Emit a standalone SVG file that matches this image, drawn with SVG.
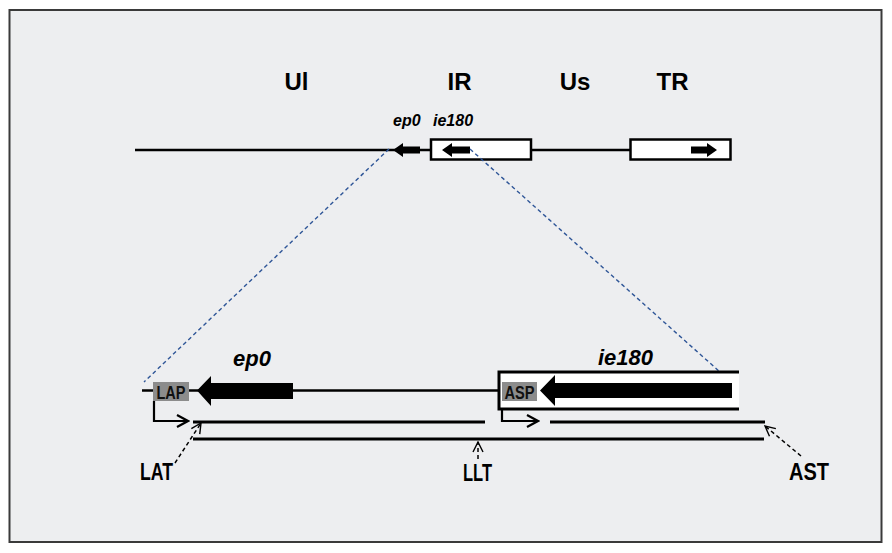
<svg xmlns="http://www.w3.org/2000/svg" width="892" height="553" viewBox="0 0 892 553">
<defs>
<style>
.lbl{font-family:"Liberation Sans",Arial,sans-serif;font-weight:bold;fill:#000}
.gene{font-family:"Liberation Sans",Arial,sans-serif;font-weight:bold;font-style:italic;fill:#000}
.ln{stroke:#000;fill:none}
.blue{stroke:#2E5597;stroke-width:1.4;stroke-dasharray:4 3;fill:none}
.dash{stroke:#000;stroke-width:1.5;stroke-dasharray:4 3;fill:none}
.prom{fill:#8C8C8C}
.promt{font-family:"Liberation Sans",Arial,sans-serif;font-weight:bold;font-size:18px;fill:#111}
</style>
<marker id="chev" viewBox="0 0 14 14" refX="12" refY="7" markerWidth="14" markerHeight="14" markerUnits="userSpaceOnUse" orient="auto">
<path d="M1,1 L12,7 L1,13" fill="none" stroke="#000" stroke-width="2.2"/>
</marker>
<marker id="open" viewBox="0 0 12 12" refX="11" refY="6" markerWidth="12" markerHeight="12" markerUnits="userSpaceOnUse" orient="auto">
<path d="M1,1 L11,6 L1,11" fill="none" stroke="#000" stroke-width="1.4"/>
</marker>
</defs>
<rect x="0" y="0" width="892" height="553" fill="#fff"/>
<rect id="frame" x="9.5" y="10" width="872" height="532" fill="#EDEEF0" stroke="#3A3A3A" stroke-width="2"/>

<g id="region-labels">
<text class="lbl" x="296.5" y="90" font-size="24" text-anchor="middle">Ul</text>
<text class="lbl" x="459.5" y="90" font-size="24" text-anchor="middle">IR</text>
<text class="lbl" x="575" y="90" font-size="24" text-anchor="middle">Us</text>
<text class="lbl" x="672.5" y="90" font-size="24" text-anchor="middle">TR</text>
</g>

<g id="genome-top">
<line class="ln" x1="135" y1="150" x2="431" y2="150" stroke-width="2.5"/>
<line class="ln" x1="531" y1="150" x2="630" y2="150" stroke-width="2.5"/>
<rect x="431" y="139.5" width="100" height="20" fill="#fff" stroke="#000" stroke-width="2.5"/>
<rect x="630.5" y="139.5" width="100" height="20" fill="#fff" stroke="#000" stroke-width="2.5"/>
<polygon points="393,150 403,143 403,146.5 420,146.5 420,153.5 403,153.5 403,157" fill="#000"/>
<polygon points="442,150 452,143 452,146.5 470,146.5 470,153.5 452,153.5 452,157" fill="#000"/>
<polygon points="717,150 707,143 707,146.5 691,146.5 691,153.5 707,153.5 707,157" fill="#000"/>
<text class="gene" x="393" y="126" font-size="16">ep0</text>
<text class="gene" x="433" y="126" font-size="16">ie180</text>
</g>

<g id="connectors">
<line class="blue" x1="389" y1="149" x2="144" y2="382"/>
<line class="blue" x1="470" y1="149" x2="720" y2="372"/>
<polyline class="ln" points="154,401 154,421 188,421" stroke-width="2.2" marker-end="url(#chev)"/>
<polyline class="ln" points="502,401 502,421 538,421" stroke-width="2.2" marker-end="url(#chev)"/>
<line class="dash" x1="175" y1="463" x2="201" y2="423" marker-end="url(#open)"/>
<line class="dash" x1="478" y1="459" x2="478" y2="442" marker-end="url(#open)"/>
<line class="dash" x1="801" y1="456" x2="765" y2="426" marker-end="url(#open)"/>
</g>

<g id="genome-detail">
<line class="ln" x1="142" y1="390.5" x2="499" y2="390.5" stroke-width="2.5"/>
<rect x="499" y="372" width="240" height="37" fill="#fff"/>
<polyline class="ln" points="739,372 499,372 499,409 739,409" stroke-width="3"/>
<polygon points="197,390.5 211,376 211,383 293,383 293,399 211,399 211,406" fill="#000"/>
<polygon points="540,390.5 555,375 555,383 732,383 732,398 555,398 555,406" fill="#000"/>
<text class="gene" x="233" y="366" font-size="22">ep0</text>
<text class="gene" x="598" y="365" font-size="22">ie180</text>
</g>

<g id="LAP">
<rect class="prom" x="153" y="382" width="36" height="19"/>
<text class="promt" x="171" y="399" text-anchor="middle" textLength="29" lengthAdjust="spacingAndGlyphs">LAP</text>
</g>
<g id="ASP">
<rect class="prom" x="502" y="382" width="35" height="19"/>
<text class="promt" x="519.5" y="399" text-anchor="middle" textLength="30" lengthAdjust="spacingAndGlyphs">ASP</text>
</g>

<g id="transcripts">
<line class="ln" x1="193" y1="422" x2="485" y2="422" stroke-width="2.8"/>
<line class="ln" x1="550" y1="422" x2="765" y2="422" stroke-width="2.8"/>
<line class="ln" x1="193" y1="439" x2="764" y2="439" stroke-width="2.8"/>
</g>

<g id="transcript-labels">
<text class="lbl" x="156.5" y="480" font-size="24" text-anchor="middle" textLength="33" lengthAdjust="spacingAndGlyphs">LAT</text>
<text class="lbl" x="477.5" y="481" font-size="24" text-anchor="middle" textLength="29" lengthAdjust="spacingAndGlyphs">LLT</text>
<text class="lbl" x="809" y="480" font-size="24" text-anchor="middle" textLength="40" lengthAdjust="spacingAndGlyphs">AST</text>
</g>
</svg>
